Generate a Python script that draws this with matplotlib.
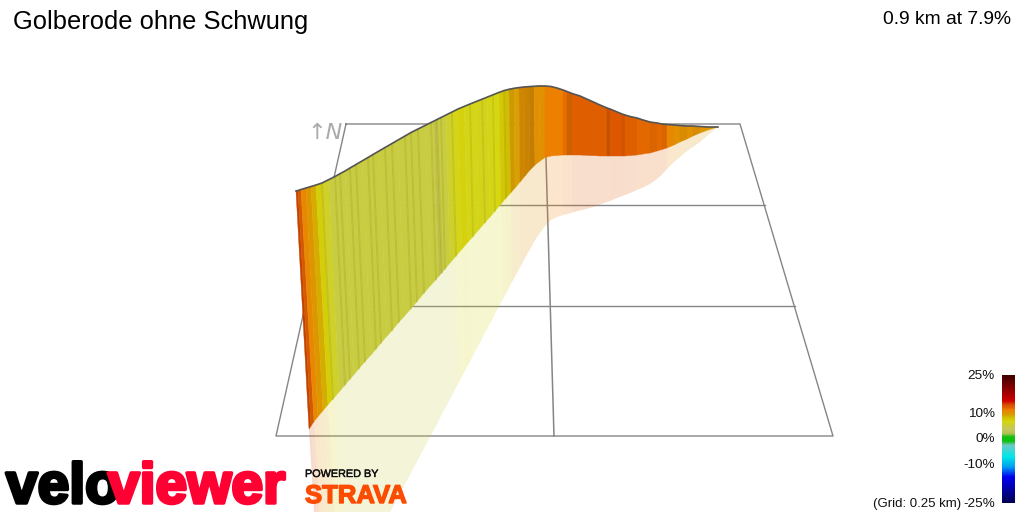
import numpy as np
import matplotlib
matplotlib.use("Agg")
import matplotlib.pyplot as plt
import matplotlib.patheffects as pe
from matplotlib.colors import LinearSegmentedColormap, Normalize

plt.rcParams['font.family'] = ['Liberation Sans', 'DejaVu Sans']

# route stations, in picture pixels
top_x = [296, 298, 301, 306, 311, 316, 322, 329, 335, 340, 345, 350, 356, 362, 368, 373, 379, 385, 392, 398,
         405, 411, 418, 425, 431, 434, 437, 441, 446, 452, 458, 464, 470, 476, 482, 487, 493, 499, 504, 509,
         514, 519, 524, 529, 534, 539, 545, 551, 557, 563, 567, 572, 580, 590, 600, 607, 610, 616, 622, 625,
         630, 637, 643, 650, 657, 662, 667, 674, 680, 687, 693, 700, 708, 718]
top_y = [191, 190.5, 189.5, 188, 186.5, 185, 183, 179.5, 176.5, 173.7, 171, 168, 164.5, 161, 157.5, 154.5, 151, 147.5, 143.5, 140,
         136, 132.5, 129, 125.5, 122.5, 121, 119.5, 117.5, 115, 112, 109, 106.5, 104, 101.6, 99.2, 97.2, 94.8, 92.4, 90.6, 89.3,
         88.3, 87.6, 87, 86.6, 86.3, 86, 86, 86.5, 88, 90, 91.5, 93.5, 96, 100.5, 105, 108, 109, 111.5, 114, 115,
         116.5, 118, 120, 122, 123, 124, 124.5, 125, 125.5, 126, 126, 126.5, 127, 127]
base_x = [309, 311, 314, 318, 323, 328, 333, 339, 345, 350, 354, 359, 365, 371, 376, 381, 387, 392, 399, 404,
          411, 417, 424, 431, 436, 439, 442, 445, 450, 456, 462, 468, 473, 479, 485, 490, 495, 501, 506, 511,
          515, 520, 525, 530, 535, 540, 545, 551, 557, 563, 567, 572, 580, 590, 600, 607, 610, 616, 622, 625,
          630, 637, 643, 650, 657, 662, 667, 674, 680, 687, 693, 700, 708, 718]
base_y = [429, 426, 421.5, 416.5, 410.5, 404.5, 399, 392, 385, 379, 374.5, 368.5, 361.5, 355, 349, 343, 336, 330.5, 322, 316.5,
          308.5, 301.5, 293, 285, 279.5, 276, 272.5, 269, 263, 256, 249, 242, 236.5, 229.5, 222.5, 217, 211, 204, 198, 192.5,
          188, 182, 176, 170, 165, 161, 157.5, 156, 155.5, 155, 155, 155, 155, 155.5, 156, 156, 156, 156, 156, 156,
          155.5, 155, 154, 153, 151, 149.5, 148, 145, 142, 139, 136, 133, 130, 127]
shadow_x = [322, 324, 327, 331, 335, 340, 344, 350, 355, 359, 363, 368, 373, 378, 383, 388, 393, 398, 404, 410,
            416, 422, 429, 436, 441, 444, 447, 449, 454, 459, 465, 471, 476, 481, 487, 492, 497, 503, 507, 512,
            516, 521, 526, 531, 536, 541, 546, 551, 557, 563, 567, 572, 580, 590, 600, 607, 610, 616, 622, 625,
            630, 637, 643, 650, 657, 662, 667, 674, 680, 687, 693, 700, 708, 718]
shadow_y = [641, 637, 632, 624, 616.5, 607, 599.5, 588, 579, 571, 563.6, 554, 545, 535, 526, 516, 507, 497.5, 486, 475,
            463.5, 452, 439, 426, 416, 410.5, 405, 401, 391.6, 382, 371, 359.5, 350, 340.6, 329, 320, 310, 299, 291.5, 282,
            274.5, 265.5, 256.5, 247.5, 238.5, 231.5, 225, 220, 217, 215, 214, 212.5, 210.5, 208, 204.5, 202, 201, 198.5, 196, 195,
            193, 190, 187.5, 184, 179, 174.5, 169, 162, 157, 151, 147, 142, 135, 127]

# gradient (%) and darkening of each segment
grade = [13.5, 12.5, 11, 10, 9, 7.5, 6, 5, 5, 5, 5, 5, 5, 5, 5, 5, 5, 5, 5, 5,
         5, 5, 5, 5, 5, 4.6, 5, 5, 5.8, 6.8, 7.3, 6.8, 6.8, 6.5, 6.6, 6.8, 7, 8, 8.5, 9.5,
         9.5, 10.5, 10.5, 10.5, 10.5, 10.5, 11.5, 11.5, 11.5, 12, 12, 12.5, 12.5, 12.5, 12.5, 12.5, 13, 13, 13, 12.5,
         12.5, 12.2, 12.2, 12.2, 12.2, 12.2, 11, 10.5, 10.5, 10.5, 10.5, 10, 9.8]
shade = [.9, .95, 1, 1, 1, 1, 1, 1, 1, 1, 1, 1, 1, 1, 1, 1, 1, 1, 1, 1,
         1, 1, 1, 1, 1, .94, 1, 1, 1, 1, 1, 1, 1, 1, 1, 1, 1, 1, 1, .95,
         1, .92, .9, .87, 1, 1, 1, 1, 1, 1, .88, 1, 1, 1, 1, .87, 1, 1, .95, 1,
         1, 1, 1, .96, 1, .96, 1, 1, .97, 1, .97, 1, 1]
# stations with a thin darker slat
slats = [6, 8, 9, 11, 12, 14, 15, 17, 18, 20, 21, 22, 24, 26, 27, 29, 32, 34, 36, 38]

# legend
scale_labels = ['25%', '10%', '0%', '-10%', '-25%']
scale_y = [376, 414, 439, 465, 504]

# colour scale
scale_vals = [-25, -15, -11, -7, -2.5, -1, 1, 2.2, 4, 5, 7, 8.5, 9.5, 10.5, 11.5, 12.5, 13.5, 15, 25]
scale_cols = ['#000050', '#0000f0', '#00a0f0', '#00e8e8', '#70c8c8', '#10c010', '#10c010', '#b0c050', '#c8c860',
              '#c8cc40', '#d6d610', '#d0c000', '#d8a000', '#e09000', '#ee8000', '#e06000', '#d85000', '#d00000', '#400000']

norm = Normalize(vmin=-25, vmax=25)
cmap = LinearSegmentedColormap.from_list('grade', [(norm(v), c) for v, c in zip(scale_vals, scale_cols)])

fig = plt.figure(figsize=(10.24, 5.12), dpi=100)
ax = fig.add_axes([0, 0, 1, 1])

# ground grid
grid = '#858585'
ax.plot([346, 740, 833, 276, 346], [124, 124, 436, 436, 124], color=grid, lw=1, zorder=1)
ax.plot([545, 554], [124, 436], color=grid, lw=1.1, zorder=1)
ax.plot([340, 765], [205, 205], color=grid, lw=1, zorder=1)
ax.plot([320, 795], [306, 306], color=grid, lw=1, zorder=1)

# shadow first, then the wall over it
for i in range(len(grade)):
    c = cmap(norm(grade[i]))
    ax.fill([base_x[i], base_x[i+1], shadow_x[i+1], shadow_x[i]],
            [base_y[i], base_y[i+1], shadow_y[i+1], shadow_y[i]],
            color=c, alpha=0.2, lw=0, zorder=2)
for i in range(len(grade)):
    c = np.array(cmap(norm(grade[i])))
    c[:3] *= shade[i]
    ax.fill([top_x[i], top_x[i+1], base_x[i+1], base_x[i]],
            [top_y[i], top_y[i+1], base_y[i+1], base_y[i]],
            facecolor=c, edgecolor=c, lw=0.3, zorder=3)
for i in slats:
    ax.plot([top_x[i], base_x[i]], [top_y[i], base_y[i]], color='#706000', alpha=0.14, lw=1.3, zorder=3.5)
ax.plot(top_x, top_y, color='#555555', lw=1.2, zorder=4)

ax.text(13, 22, 'Golberode ohne Schwung', fontsize=18.4, va='center', ha='left', color='black')
ax.text(1011, 20, '0.9 km at 7.9%', fontsize=13.9, va='center', ha='right', color='black')
ax.text(307, 133, '↑N', fontsize=16, style='oblique', color='#aaaaaa', family='DejaVu Sans',
        va='center', ha='left', zorder=1)

# colour bar
bar = np.linspace(25, -25, 128).reshape(-1, 1)
ax.imshow(bar, cmap=cmap, norm=norm, extent=(1002, 1015, 503, 375), aspect='auto', zorder=2)
for lab, y in zip(scale_labels, scale_y):
    ax.text(995, y, lab, fontsize=9.7, ha='right', va='center', color='#111111')
ax.text(961, 504, '(Grid: 0.25 km)', fontsize=9.5, ha='right', va='center', color='#111111')

# logos
ax.text(6, 503, 'velo', fontsize=41, weight='bold', ha='left', va='baseline', color='black', zorder=5,
        path_effects=[pe.withStroke(linewidth=2.5, foreground='black')])
ax.text(108, 503, 'viewer', fontsize=41, weight='bold', ha='left', va='baseline', color='#ff0033', zorder=5,
        path_effects=[pe.withStroke(linewidth=2.5, foreground='#ff0033')])
ax.text(305, 474, 'POWERED BY', fontsize=7.8, ha='left', va='center', color='#111111', zorder=5,
        path_effects=[pe.withStroke(linewidth=0.3, foreground='#111111')])
ax.text(305, 503, 'STRAVA', fontsize=18.5, weight='bold', ha='left', va='baseline', color='#fc4c02', zorder=5,
        path_effects=[pe.withStroke(linewidth=1, foreground='#fc4c02')])

ax.set_xlim(0, 1024)
ax.set_ylim(512, 0)
ax.axis('off')
fig.savefig('out.png', dpi=100)
